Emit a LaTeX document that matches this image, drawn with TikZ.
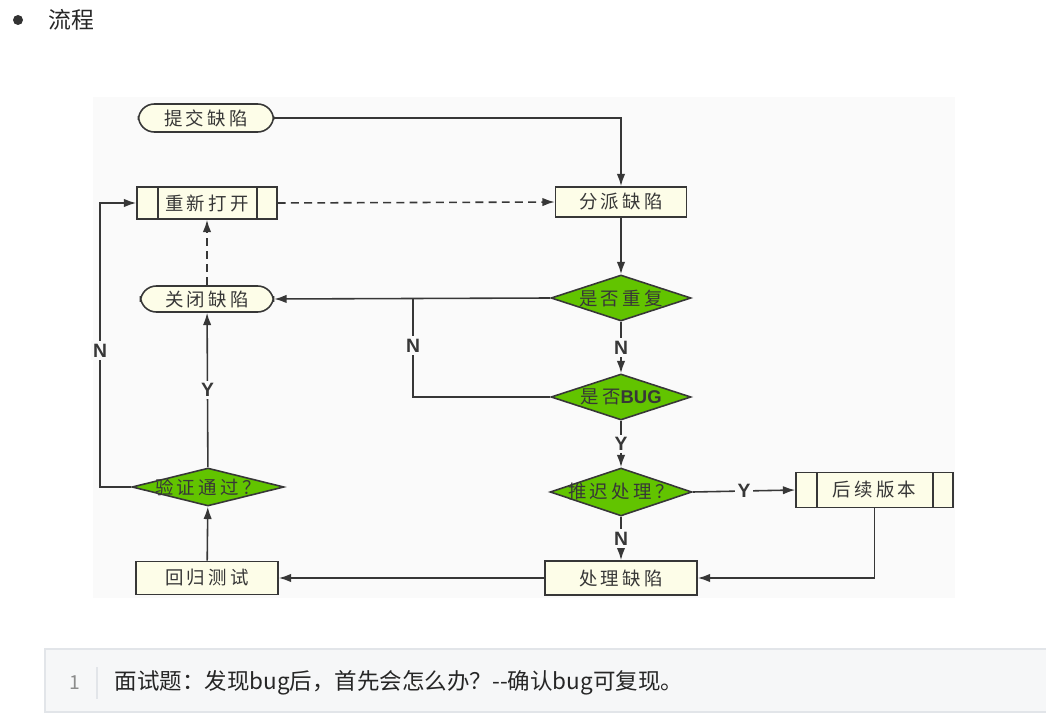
\documentclass[tikz,border=0pt]{standalone}
\usepackage{fontspec}
\setmainfont{Noto Sans CJK SC}
\newfontfamily\boxfont[LetterSpace=18]{Noto Sans CJK SC}
\newfontfamily\lblfont{Liberation Sans}
\usetikzlibrary{arrows.meta,shapes.geometric}
\definecolor{flowline}{RGB}{55,55,55}
\definecolor{flowcream}{RGB}{253,253,232}
\definecolor{flowgreen}{RGB}{98,196,0}
\definecolor{flowbg}{RGB}{250,250,250}
\definecolor{codebg}{RGB}{246,247,248}
\definecolor{codeedge}{RGB}{226,229,233}
\begin{document}
\begin{tikzpicture}[x=0.02cm,y=-0.02cm,
  line width=0.9pt,
  term/.style={draw=flowline,fill=flowcream,rounded corners=9pt,minimum width=2.7cm,minimum height=0.56cm,font=\boxfont\fontsize{10.5}{12}\selectfont,text=flowline,inner sep=0pt},
  proc/.style={draw=flowline,fill=flowcream,minimum width=2.7cm,minimum height=0.64cm,font=\boxfont\fontsize{10.5}{12}\selectfont,text=flowline,inner sep=0pt},
  subproc/.style={proc,path picture={
      \draw[flowline] ([xshift=0.42cm]path picture bounding box.north west) -- ([xshift=0.42cm]path picture bounding box.south west);
      \draw[flowline] ([xshift=-0.4cm]path picture bounding box.north east) -- ([xshift=-0.4cm]path picture bounding box.south east);}},
  decision/.style={diamond,draw=flowline,fill=flowgreen,minimum width=2.8cm,minimum height=0.92cm,inner sep=0pt,label={[font=\boxfont\fontsize{10.5}{12}\selectfont,text=flowline]center:#1}},
  arr/.style={draw=flowline,-{Latex[length=7pt,width=4.8pt]}},
  lbl/.style={fill=flowbg,inner sep=1.5pt,font=\lblfont\bfseries\fontsize{11}{12}\selectfont,text=flowline}]
  \useasboundingbox (0,0) rectangle (1046,723);
  % heading
  \fill[black!80] (18,20) circle (5);
  \node[anchor=west,font=\fontsize{13}{15}\selectfont,text=black!85] (title) at (42,20) {流程};
  % diagram area
  \fill[flowbg] (93,97) rectangle (955,598);
  % nodes
  \node[term] (submit) at (206,118) {提交缺陷};
  \node[subproc,minimum width=2.8cm] (reopen) at (207,203) {重新打开};
  \node[proc,minimum width=2.62cm,minimum height=0.6cm] (assign) at (621,202) {分派缺陷};
  \node[decision=是否重复] (dup) at (621,298) {};
  \node[term,minimum width=2.66cm,minimum height=0.52cm] (close) at (207,299) {关闭缺陷};
  \node[decision={是否{\lblfont\bfseries BUG}}] (isbug) at (621,397) {};
  \node[decision=推迟处理？,minimum width=2.84cm,minimum height=0.96cm] (delay) at (621,492) {};
  \node[subproc,minimum width=3.14cm,minimum height=0.7cm] (later) at (874.5,490) {后续版本};
  \node[proc,minimum width=3.04cm,minimum height=0.68cm] (fix) at (621,578) {处理缺陷};
  \node[proc,minimum width=2.84cm,minimum height=0.66cm] (regress) at (207,578) {回归测试};
  \node[decision=验证通过？,minimum width=3.04cm,minimum height=0.76cm] (verify) at (208,487) {};
  \coordinate (join) at (413,298);
  % connectors
  \draw[arr] (submit.east) -| (assign.north);
  \draw[arr,dashed,dash pattern=on 4.5pt off 3pt] (reopen.east) -- (assign.west);
  \draw[arr] (assign) -- (dup);
  \draw[arr] (dup.west) -- (close.east);
  \draw[arr] (dup) -- node[lbl]{N} (isbug);
  \draw[flowline] (isbug.west) -| node[lbl,pos=0.76]{N} (join);
  \draw[arr] (isbug) -- node[lbl]{Y} (delay);
  \draw[arr] (delay.east) -- node[lbl]{Y} (later.west);
  \draw[arr] (delay) -- node[lbl]{N} (fix);
  \draw[arr] (later.south) |- (fix.east);
  \draw[arr] (fix.west) -- (regress.east);
  \draw[arr] (regress) -- (verify);
  \draw[arr] (verify) -- node[lbl]{Y} (close);
  \draw[arr] (verify.west) -- ++(-31,0) |- node[lbl,pos=0.24]{N} (reopen.west);
  \draw[arr,dashed,dash pattern=on 4.5pt off 3pt] (close) -- (reopen);
  % code line
  \draw[codeedge,fill=codebg,line width=0.6pt] (45,649) rectangle (1056,712);
  \node[text=black!45,font=\fontsize{11}{13}\selectfont] (lineno) at (75,683) {1};
  \draw[codeedge,line width=0.8pt] (97,667) -- (97,699);
  \node[anchor=west,text=black!85,font=\fontsize{12.8}{14}\selectfont] (question) at (108,683) {面试题：发现bug后，首先会怎么办？-{}-确认bug可复现。};
\end{tikzpicture}
\end{document}
